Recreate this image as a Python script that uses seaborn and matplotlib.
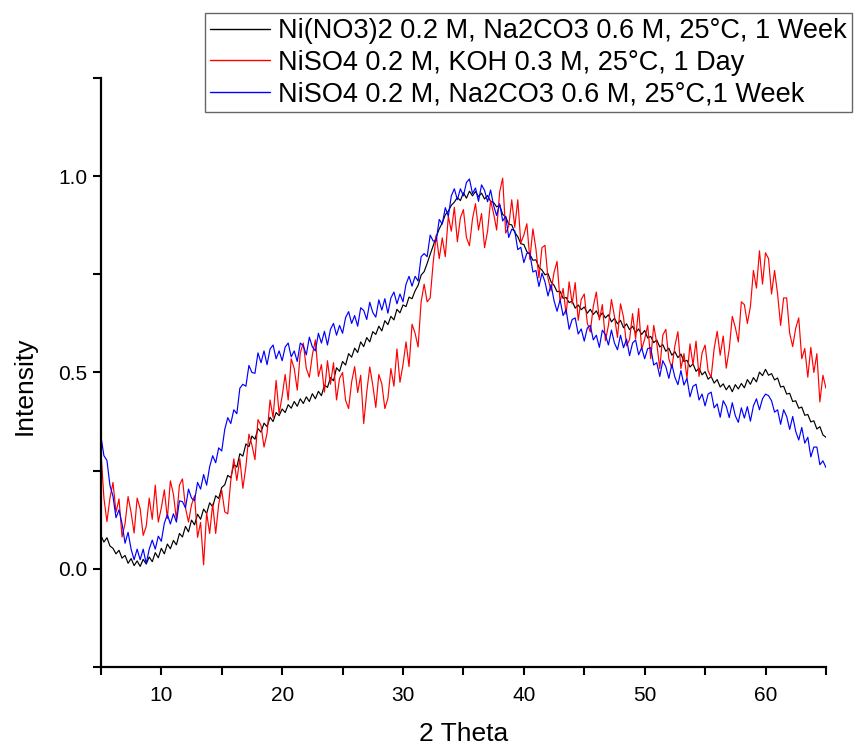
import numpy as np
import pandas as pd
import seaborn as sns
import matplotlib
matplotlib.use("Agg")
import matplotlib.pyplot as plt
from matplotlib.lines import Line2D

# ---- data (2 theta grid 5..65, step 0.25) ----
two_theta = [5 + 0.25 * i for i in range(241)]

black_ni_no3 = [
    0.085, 0.068, 0.079, 0.058, 0.052, 0.038, 0.047, 0.027, 0.034, 0.014, 0.026, 0.008,
    0.020, 0.006, 0.024, 0.012, 0.030, 0.018, 0.041, 0.028, 0.052, 0.038, 0.063, 0.051,
    0.072, 0.061, 0.090, 0.081, 0.108, 0.094, 0.124, 0.112, 0.139, 0.126, 0.152, 0.141,
    0.168, 0.158, 0.186, 0.179, 0.207, 0.214, 0.238, 0.232, 0.266, 0.259, 0.293, 0.287,
    0.318, 0.311, 0.338, 0.330, 0.357, 0.348, 0.371, 0.362, 0.386, 0.375, 0.398, 0.390,
    0.407, 0.398, 0.418, 0.409, 0.426, 0.414, 0.433, 0.421, 0.438, 0.426, 0.446, 0.433,
    0.452, 0.441, 0.468, 0.462, 0.487, 0.479, 0.512, 0.503, 0.528, 0.519, 0.548, 0.539,
    0.562, 0.551, 0.578, 0.566, 0.589, 0.578, 0.604, 0.597, 0.618, 0.606, 0.632, 0.622,
    0.643, 0.634, 0.661, 0.652, 0.672, 0.668, 0.692, 0.688, 0.708, 0.722, 0.748, 0.757,
    0.778, 0.801, 0.823, 0.846, 0.866, 0.881, 0.902, 0.911, 0.926, 0.934, 0.946, 0.938,
    0.958, 0.944, 0.962, 0.950, 0.961, 0.948, 0.957, 0.942, 0.951, 0.936, 0.933, 0.922,
    0.926, 0.903, 0.896, 0.878, 0.876, 0.857, 0.846, 0.828, 0.826, 0.808, 0.801, 0.786,
    0.787, 0.768, 0.761, 0.749, 0.752, 0.731, 0.722, 0.706, 0.707, 0.689, 0.691, 0.678,
    0.682, 0.664, 0.672, 0.660, 0.667, 0.651, 0.661, 0.648, 0.657, 0.641, 0.652, 0.639,
    0.647, 0.629, 0.638, 0.624, 0.633, 0.614, 0.624, 0.609, 0.618, 0.601, 0.611, 0.597,
    0.607, 0.588, 0.592, 0.576, 0.583, 0.565, 0.571, 0.554, 0.562, 0.544, 0.553, 0.538,
    0.547, 0.528, 0.531, 0.514, 0.522, 0.503, 0.511, 0.494, 0.502, 0.483, 0.490, 0.473,
    0.482, 0.463, 0.471, 0.456, 0.467, 0.451, 0.469, 0.458, 0.472, 0.461, 0.482, 0.470,
    0.487, 0.476, 0.501, 0.492, 0.508, 0.493, 0.497, 0.481, 0.486, 0.463, 0.465, 0.445,
    0.447, 0.426, 0.428, 0.409, 0.412, 0.391, 0.393, 0.374, 0.377, 0.356, 0.362, 0.341,
    0.335,
]

red_niso4_koh = [
    0.300, 0.180, 0.120, 0.180, 0.220, 0.144, 0.178, 0.081, 0.115, 0.184, 0.143, 0.091,
    0.180, 0.153, 0.085, 0.108, 0.180, 0.126, 0.213, 0.119, 0.155, 0.201, 0.128, 0.224,
    0.190, 0.126, 0.213, 0.229, 0.155, 0.119, 0.163, 0.186, 0.080, 0.118, 0.010, 0.143,
    0.090, 0.165, 0.090, 0.165, 0.200, 0.145, 0.140, 0.225, 0.280, 0.225, 0.280, 0.205,
    0.260, 0.343, 0.315, 0.278, 0.380, 0.365, 0.310, 0.345, 0.430, 0.385, 0.480, 0.395,
    0.440, 0.495, 0.430, 0.535, 0.510, 0.455, 0.550, 0.575, 0.510, 0.488, 0.545, 0.583,
    0.490, 0.520, 0.450, 0.530, 0.470, 0.525, 0.430, 0.485, 0.500, 0.429, 0.408, 0.476,
    0.515, 0.449, 0.493, 0.370, 0.450, 0.514, 0.468, 0.411, 0.495, 0.471, 0.408, 0.434,
    0.510, 0.465, 0.560, 0.475, 0.520, 0.578, 0.515, 0.623, 0.600, 0.565, 0.680, 0.725,
    0.680, 0.690, 0.780, 0.850, 0.790, 0.843, 0.795, 0.898, 0.860, 0.921, 0.833, 0.894,
    0.915, 0.844, 0.823, 0.891, 0.930, 0.863, 0.905, 0.818, 0.860, 0.938, 0.905, 0.863,
    0.960, 0.995, 0.855, 0.873, 0.940, 0.870, 0.940, 0.830, 0.850, 0.879, 0.788, 0.866,
    0.815, 0.741, 0.818, 0.824, 0.740, 0.708, 0.755, 0.783, 0.680, 0.714, 0.648, 0.731,
    0.675, 0.729, 0.633, 0.686, 0.700, 0.626, 0.603, 0.669, 0.705, 0.634, 0.673, 0.581,
    0.620, 0.686, 0.643, 0.589, 0.675, 0.641, 0.568, 0.584, 0.650, 0.586, 0.663, 0.559,
    0.585, 0.620, 0.535, 0.620, 0.575, 0.510, 0.595, 0.610, 0.535, 0.511, 0.568, 0.604,
    0.510, 0.548, 0.485, 0.573, 0.520, 0.580, 0.490, 0.550, 0.570, 0.504, 0.488, 0.561,
    0.605, 0.544, 0.593, 0.511, 0.560, 0.643, 0.615, 0.578, 0.680, 0.673, 0.625, 0.668,
    0.760, 0.715, 0.810, 0.725, 0.805, 0.790, 0.700, 0.760, 0.700, 0.620, 0.690, 0.690,
    0.600, 0.566, 0.613, 0.639, 0.535, 0.561, 0.488, 0.564, 0.500, 0.548, 0.425, 0.493,
    0.460,
]

blue_niso4_na2co3 = [
    0.338, 0.288, 0.276, 0.212, 0.185, 0.130, 0.150, 0.115, 0.065, 0.093, 0.050, 0.023,
    0.050, 0.023, 0.050, 0.013, 0.050, 0.073, 0.050, 0.083, 0.070, 0.116, 0.138, 0.114,
    0.140, 0.119, 0.173, 0.171, 0.155, 0.203, 0.180, 0.173, 0.220, 0.203, 0.240, 0.213,
    0.260, 0.288, 0.270, 0.308, 0.300, 0.355, 0.385, 0.370, 0.405, 0.395, 0.460, 0.470,
    0.465, 0.518, 0.500, 0.498, 0.550, 0.525, 0.555, 0.520, 0.560, 0.570, 0.535, 0.555,
    0.530, 0.565, 0.575, 0.540, 0.555, 0.528, 0.575, 0.568, 0.545, 0.590, 0.565, 0.555,
    0.600, 0.575, 0.605, 0.570, 0.610, 0.625, 0.595, 0.620, 0.600, 0.640, 0.655, 0.625,
    0.645, 0.618, 0.665, 0.658, 0.635, 0.679, 0.653, 0.641, 0.685, 0.659, 0.688, 0.651,
    0.690, 0.705, 0.675, 0.700, 0.680, 0.725, 0.745, 0.720, 0.745, 0.733, 0.795, 0.803,
    0.795, 0.850, 0.835, 0.835, 0.890, 0.878, 0.920, 0.898, 0.950, 0.968, 0.940, 0.968,
    0.950, 0.984, 0.993, 0.956, 0.970, 0.936, 0.978, 0.964, 0.935, 0.965, 0.925, 0.900,
    0.930, 0.886, 0.898, 0.844, 0.865, 0.861, 0.813, 0.819, 0.780, 0.804, 0.803, 0.756,
    0.760, 0.719, 0.753, 0.731, 0.695, 0.724, 0.683, 0.656, 0.685, 0.645, 0.660, 0.610,
    0.635, 0.639, 0.598, 0.611, 0.580, 0.613, 0.620, 0.583, 0.595, 0.564, 0.608, 0.596,
    0.570, 0.608, 0.575, 0.558, 0.595, 0.563, 0.585, 0.543, 0.575, 0.583, 0.545, 0.563,
    0.535, 0.561, 0.563, 0.519, 0.525, 0.490, 0.530, 0.515, 0.485, 0.521, 0.488, 0.469,
    0.505, 0.468, 0.485, 0.438, 0.465, 0.470, 0.430, 0.445, 0.415, 0.445, 0.450, 0.410,
    0.420, 0.386, 0.428, 0.414, 0.385, 0.423, 0.390, 0.373, 0.410, 0.384, 0.413, 0.376,
    0.415, 0.433, 0.405, 0.433, 0.445, 0.441, 0.428, 0.399, 0.405, 0.368, 0.405, 0.388,
    0.355, 0.388, 0.350, 0.328, 0.360, 0.320, 0.335, 0.285, 0.310, 0.310, 0.265, 0.275,
    0.258,
]

series_labels = [
    "Ni(NO3)2 0.2 M, Na2CO3 0.6 M, 25°C, 1 Week",
    "NiSO4 0.2 M, KOH 0.3 M, 25°C, 1 Day",
    "NiSO4 0.2 M, Na2CO3 0.6 M, 25°C,1 Week",
]
series_colors = ["#000000", "#ff0000", "#0000ff"]
x_ticks_major = [10, 20, 30, 40, 50, 60]
y_ticks_major = [0.0, 0.5, 1.0]

frames = []
for lab, vals in zip(series_labels, [black_ni_no3, red_niso4_koh, blue_niso4_na2co3]):
    frames.append(pd.DataFrame({"two_theta": two_theta, "intensity": vals, "sample": lab}))
df = pd.concat(frames, ignore_index=True)

sns.set_style("ticks")
plt.rcParams["font.family"] = ["Liberation Sans", "DejaVu Sans"]
plt.rcParams["text.color"] = "black"
plt.rcParams["axes.labelcolor"] = "black"

fig = plt.figure(figsize=(8.55, 7.51), dpi=100)
ax = fig.add_axes([0.118, 0.112, 0.848, 0.784])

sns.lineplot(data=df, x="two_theta", y="intensity", hue="sample",
             palette=dict(zip(series_labels, series_colors)),
             hue_order=series_labels, linewidth=0.85, estimator=None,
             sort=False, legend=False, ax=ax)

ax.set_xlim(5, 65)
ax.set_ylim(-0.25, 1.25)
ax.set_xticks(x_ticks_major)
ax.set_xticks([5, 15, 25, 35, 45, 55, 65], minor=True)
ax.set_yticks(y_ticks_major)
ax.set_yticks([-0.25, 0.25, 0.75, 1.25], minor=True)
ax.set_yticklabels([f"{v:.1f}" for v in y_ticks_major])
ax.tick_params(which="both", direction="out", length=6, width=1.5,
               labelsize=15, colors="black")
ax.tick_params(axis="x", which="both", pad=8)
ax.tick_params(axis="y", which="both", pad=4)
for s in ["top", "right"]:
    ax.spines[s].set_visible(False)
for s in ["left", "bottom"]:
    ax.spines[s].set_linewidth(1.6)
    ax.spines[s].set_color("black")

ax.set_xlabel("2 Theta", fontsize=19, color="black")
ax.set_ylabel("Intensity", fontsize=19, color="black")
ax.xaxis.set_label_coords(0.5, -0.093)
ax.yaxis.set_label_coords(-0.088, 0.478)

handles = [Line2D([0], [0], color=c, lw=1) for c in series_colors]
leg = fig.legend(handles, series_labels, loc="upper right",
                 bbox_to_anchor=(0.9965, 0.983), fontsize=19.5, frameon=True,
                 fancybox=False, handlelength=2.2, handletextpad=0.3,
                 borderpad=0.2, labelspacing=0.2, borderaxespad=0,
                 labelcolor="black")
leg.get_frame().set_edgecolor("#404040")
leg.get_frame().set_linewidth(1.0)

fig.savefig("out.png", dpi=100)
